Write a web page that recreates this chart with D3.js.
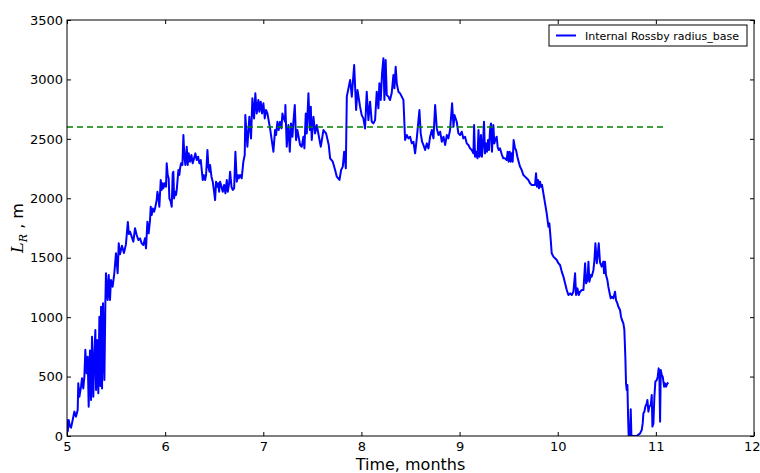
<!DOCTYPE html>
<html>
<head>
<meta charset="utf-8">
<script src="https://cdn.jsdelivr.net/npm/d3@7"></script>
<style>
    body { margin: 0; background: #fff; }
    svg { display: block; }
    text { font-family: "DejaVu Sans", sans-serif; }
</style>
</head>
<body>
<script>
// Internal Rossby radius over time
var months = [
    5.000, 5.008, 5.017, 5.030, 5.041, 5.058, 5.075, 5.092, 5.109, 5.115,
    5.126, 5.143, 5.153, 5.166, 5.177, 5.187, 5.200, 5.211, 5.221, 5.234,
    5.245, 5.255, 5.268, 5.279, 5.289, 5.296, 5.306, 5.319, 5.330, 5.340,
    5.347, 5.357, 5.367, 5.381, 5.391, 5.397, 5.414, 5.425, 5.438, 5.448,
    5.465, 5.482, 5.499, 5.516, 5.527, 5.540, 5.560, 5.580, 5.600, 5.620,
    5.630,
    5.642, 5.659, 5.676, 5.693, 5.710, 5.727, 5.744, 5.761, 5.778, 5.795,
    5.805, 5.819, 5.832, 5.846, 5.853, 5.863, 5.873, 5.887, 5.897, 5.914,
    5.921, 5.931, 5.941, 5.955, 5.965, 5.975, 5.982, 5.996, 6.009, 6.016,
    6.026, 6.036, 6.043, 6.057, 6.067, 6.077, 6.084, 6.091, 6.101, 6.111,
    6.118, 6.135, 6.145, 6.152, 6.162, 6.176, 6.186, 6.196, 6.206, 6.220,
    6.230, 6.240, 6.254, 6.268, 6.281, 6.295, 6.308, 6.322, 6.336, 6.349,
    6.363, 6.373, 6.383, 6.393, 6.407, 6.417, 6.431, 6.441, 6.451, 6.458,
    6.472, 6.485, 6.499, 6.509, 6.519, 6.529, 6.540, 6.550, 6.560, 6.574,
    6.587, 6.601, 6.614, 6.628, 6.638, 6.652, 6.662, 6.676, 6.689, 6.703,
    6.716, 6.730, 6.740, 6.750,
    6.763, 6.780, 6.797, 6.811, 6.817, 6.838, 6.858, 6.875, 6.889, 6.906,
    6.919, 6.933, 6.950, 6.960, 6.974, 6.987, 7.001, 7.015, 7.028, 7.042,
    7.069, 7.103, 7.120, 7.130, 7.144, 7.157, 7.171, 7.185, 7.195, 7.208,
    7.222, 7.225, 7.239, 7.256, 7.270, 7.283, 7.297, 7.307, 7.321, 7.334,
    7.348, 7.375, 7.392, 7.409, 7.419, 7.433, 7.443, 7.460, 7.474, 7.484,
    7.494, 7.511, 7.528, 7.545, 7.586, 7.613, 7.640, 7.667, 7.681, 7.708,
    7.732, 7.749, 7.776, 7.793, 7.810, 7.824, 7.841,
    7.851, 7.885, 7.902, 7.926, 7.946, 7.960,
    7.986, 8.003, 8.020, 8.037, 8.054, 8.071, 8.088, 8.105, 8.122, 8.139,
    8.156, 8.173, 8.183, 8.197, 8.210, 8.224, 8.234, 8.247, 8.258, 8.275,
    8.291, 8.308, 8.326, 8.336, 8.349, 8.360, 8.377, 8.394, 8.411, 8.428,
    8.445, 8.462, 8.479, 8.496, 8.513, 8.530, 8.547, 8.564, 8.581, 8.591,
    8.604, 8.618, 8.632, 8.649, 8.666, 8.683, 8.700, 8.717, 8.734, 8.751,
    8.768, 8.785, 8.802, 8.819, 8.836, 8.853, 8.870, 8.886, 8.903, 8.924,
    8.938, 8.948, 8.971, 8.988, 9.005, 9.022, 9.039, 9.056, 9.073, 9.090,
    9.107, 9.124, 9.141, 9.148, 9.158, 9.169, 9.182, 9.193, 9.203,
    9.208, 9.218, 9.228, 9.239, 9.249, 9.259, 9.269, 9.279, 9.290, 9.300,
    9.310, 9.320, 9.330, 9.344, 9.354, 9.364, 9.378, 9.388, 9.398, 9.412,
    9.422, 9.432, 9.446, 9.463, 9.480, 9.490, 9.500, 9.511, 9.521, 9.531,
    9.541, 9.551, 9.565, 9.575, 9.589, 9.602, 9.616, 9.633, 9.650, 9.667,
    9.684, 9.701, 9.718, 9.735, 9.752, 9.769, 9.779, 9.789, 9.800, 9.810,
    9.820, 9.830, 9.840, 9.854, 9.871, 9.888, 9.905, 9.915, 9.929, 9.939,
    9.956, 9.973, 9.990, 10.007, 10.024, 10.041, 10.058, 10.075, 10.092, 10.109,
    10.126, 10.143, 10.160, 10.177, 10.187, 10.201, 10.214, 10.228, 10.245, 10.262,
    10.279, 10.289, 10.303, 10.313, 10.323, 10.337, 10.347, 10.364, 10.374, 10.384,
    10.398, 10.408, 10.418,
    10.431, 10.448, 10.465, 10.472, 10.482, 10.492, 10.506, 10.516, 10.526, 10.540,
    10.550, 10.567, 10.584, 10.594, 10.608, 10.618, 10.635, 10.645, 10.655, 10.669,
    10.679, 10.689, 10.696, 10.703, 10.710, 10.717, 10.723, 10.737, 10.744, 10.751,
    10.771, 10.805, 10.839, 10.856, 10.866, 10.873, 10.883, 10.893, 10.907, 10.914,
    10.924, 10.934, 10.948, 10.958, 10.965, 10.975, 10.985, 10.995, 11.009, 11.019,
    11.029, 11.036, 11.043, 11.050, 11.060, 11.070, 11.084, 11.094, 11.104, 11.118,
    11.128
];

var radius = [
    140, 40, 135, 80, 70, 135, 205, 163, 220, 443,
    330, 415, 485, 400, 500, 725, 527, 667, 247, 720,
    303, 835, 330, 700, 892, 387, 808, 359, 1004, 420,
    1088, 400, 1116, 471, 1130, 1369, 1144, 1354, 1144, 1312,
    1256, 1369, 1537, 1369, 1621, 1530, 1600, 1540, 1610, 1800,
    1700,
    1719, 1677, 1635, 1747, 1691, 1649, 1663, 1621, 1607, 1663,
    1579, 1803, 1705, 1817, 1929, 1859, 1915, 1887, 1915, 1985,
    2055, 2013, 1929, 2154, 2070, 2126, 2084, 2126, 2097, 2294,
    2196, 2168, 1999, 1971, 1929, 2210, 2224, 1999, 2055, 2028,
    2070, 2238, 2196, 2252, 2294, 2280, 2532, 2350, 2280, 2434,
    2280, 2378, 2308, 2364, 2294, 2336, 2378, 2322, 2350, 2294,
    2322, 2238, 2154, 2196, 2154, 2196, 2406, 2266, 2224, 2280,
    2182, 2140, 2055, 1985, 2140, 2097, 2126, 2055, 2140, 2097,
    2055, 2112, 2042, 2154, 2055, 2126, 2224, 2097, 2070, 2084,
    2392, 2140, 2196, 2168,
    2196, 2168, 2308, 2364, 2701, 2434, 2686, 2504, 2841, 2672,
    2883, 2714, 2827, 2729, 2813, 2714, 2799, 2672, 2743, 2714,
    2588, 2392, 2574, 2532, 2644, 2574, 2644, 2588, 2714, 2672,
    2644, 2785, 2434, 2616, 2392, 2630, 2518, 2644, 2785, 2490,
    2574, 2448, 2434, 2518, 2420, 2714, 2546, 2883, 2574, 2771,
    2490, 2686, 2546, 2616, 2434, 2574, 2546, 2448, 2336, 2308,
    2238, 2182, 2154, 2238, 2266, 2392, 2252,
    2855, 2995, 2855, 3121, 2743, 2911,
    2771, 2700, 2672, 2588, 2897, 2658, 2813, 2644, 2630, 2658,
    2897, 2757, 2967, 2827, 3051, 3178, 2827, 3164, 2869, 2855,
    2827, 2883, 3037, 2925, 3107, 2967, 2897, 2883, 2855, 2827,
    2490, 2532, 2504, 2518, 2462, 2476, 2378, 2504, 2658, 2743,
    2546, 2476, 2448, 2406, 2462, 2420, 2518, 2574, 2504, 2785,
    2588, 2532, 2560, 2476, 2518, 2448, 2532, 2504, 2574, 2799,
    2602, 2700, 2644, 2546, 2532, 2560, 2504, 2518, 2462, 2448,
    2420, 2406, 2378, 2616, 2350, 2392, 2336, 2574, 2350,
    2364, 2532, 2350, 2462, 2644, 2378, 2462, 2392, 2490, 2406,
    2574, 2630, 2392, 2616, 2462, 2490, 2518, 2434, 2406, 2420,
    2392, 2364, 2336, 2336, 2322, 2392, 2308, 2392, 2308, 2378,
    2308, 2490, 2420, 2406, 2350, 2308, 2266, 2238, 2196, 2182,
    2168, 2154, 2126, 2112, 2112, 2112, 2210, 2097, 2154, 2084,
    2140, 2097, 2112, 2042, 1957, 1873, 1761, 1789, 1649, 1537,
    1509, 1495, 1481, 1453, 1439, 1383, 1341, 1285, 1228, 1186,
    1200, 1186, 1214, 1369, 1186, 1242, 1186, 1214, 1228, 1228,
    1453, 1285, 1312, 1467, 1298, 1355, 1341, 1397, 1481, 1621,
    1453, 1523, 1621,
    1460, 1425, 1467, 1369, 1467, 1355, 1312, 1256, 1214, 1158,
    1172, 1158, 1214, 1144, 1116, 1088, 1060, 1004, 976, 948,
    892, 667, 443, 387, 429, 163, 0, 10, 225, 0,
    0, 0, 22, 50, 106, 191, 205, 247, 275, 303,
    205, 247, 261, 345, 79, 106, 331, 457, 471, 499,
    569, 499, 121, 555, 513, 499, 415, 443, 415, 443,
    449
];

var seriesName = "Internal Rossby radius_base";

// reference level (green dashed line) and where it runs
var baseRadius = 2600;
var baseMonths = [5, 11.1];

var xTicks = [5, 6, 7, 8, 9, 10, 11, 12];
var yTicks = [0, 500, 1000, 1500, 2000, 2500, 3000, 3500];

var margin = {top: 20, right: 6, bottom: 37, left: 67},
    width = 760 - margin.left - margin.right,
    height = 473 - margin.top - margin.bottom;

var svg = d3.select("body").append("svg")
    .attr("width", width + margin.left + margin.right)
    .attr("height", height + margin.top + margin.bottom)
    .append("g")
    .attr("transform", "translate(" + margin.left + "," + margin.top + ")");

var xScale = d3.scaleLinear().domain([5, 12]).range([0, width]);
var yScale = d3.scaleLinear().domain([0, 3500]).range([height, 0]);

// clip like matplotlib does to the axes box
svg.append("clipPath")
    .attr("id", "plotClip")
    .append("rect")
    .attr("width", width)
    .attr("height", height);

var data = months.map(function(m, i) { return {t: m, v: radius[i]}; });

var line = d3.line()
    .x(function(d) { return xScale(d.t); })
    .y(function(d) { return yScale(d.v); });

svg.append("path")
    .datum(data)
    .attr("clip-path", "url(#plotClip)")
    .attr("fill", "none")
    .attr("stroke", "#0000ff")
    .attr("stroke-width", 2)
    .attr("stroke-linejoin", "round")
    .attr("d", line);

svg.append("line")
    .attr("x1", xScale(baseMonths[0]))
    .attr("x2", xScale(baseMonths[1]))
    .attr("y1", yScale(baseRadius))
    .attr("y2", yScale(baseRadius))
    .attr("stroke", "#008000")
    .attr("stroke-width", 1.6)
    .attr("stroke-dasharray", "6,4");

// inward ticks on all four sides, labels only bottom and left
function styleAxis(g) {
    g.select(".domain").remove();
    g.selectAll(".tick line").attr("stroke", "#000");
    g.selectAll(".tick text")
        .attr("fill", "#000")
        .style("font-family", "'DejaVu Sans', sans-serif")
        .style("font-size", "13px");
}

var xAxisG = svg.append("g")
    .attr("transform", "translate(0," + height + ")")
    .call(d3.axisBottom(xScale).tickValues(xTicks).tickFormat(d3.format("d"))
        .tickSizeInner(-4).tickSizeOuter(0).tickPadding(6))
    .call(styleAxis);

// last label sits on the window edge, pull it in so it stays whole
xAxisG.selectAll(".tick text")
    .filter(function(d) { return d === xTicks[xTicks.length - 1]; })
    .attr("text-anchor", "end")
    .attr("x", 6);

svg.append("g")
    .call(d3.axisTop(xScale).tickValues(xTicks).tickFormat("")
        .tickSizeInner(-4).tickSizeOuter(0))
    .call(styleAxis);

svg.append("g")
    .call(d3.axisLeft(yScale).tickValues(yTicks).tickFormat(d3.format("d"))
        .tickSizeInner(-4).tickSizeOuter(0).tickPadding(4))
    .call(styleAxis);

svg.append("g")
    .attr("transform", "translate(" + width + ",0)")
    .call(d3.axisRight(yScale).tickValues(yTicks).tickFormat("")
        .tickSizeInner(-4).tickSizeOuter(0))
    .call(styleAxis);

// axes frame
svg.append("rect")
    .attr("width", width)
    .attr("height", height)
    .attr("fill", "none")
    .attr("stroke", "#000")
    .attr("stroke-width", 1);

// axis labels
svg.append("text")
    .attr("x", width / 2)
    .attr("y", height + 34)
    .attr("text-anchor", "middle")
    .style("font-size", "16px")
    .text("Time, months");

var yLabel = svg.append("text")
    .attr("transform", "translate(" + (23 - margin.left) + "," + (height / 2) + ") rotate(-90)")
    .attr("text-anchor", "middle")
    .style("font-size", "16px");
yLabel.append("tspan")
    .style("font-family", "'DejaVu Serif', serif")
    .style("font-style", "italic")
    .text("L");
yLabel.append("tspan")
    .attr("dy", 4)
    .style("font-family", "'DejaVu Serif', serif")
    .style("font-style", "italic")
    .style("font-size", "11px")
    .text("R");
yLabel.append("tspan")
    .attr("dy", -4)
    .text(" , m");

// legend
var legend = svg.append("g")
    .attr("transform", "translate(" + (549 - margin.left) + "," + (25 - margin.top) + ")");
legend.append("rect")
    .attr("width", 198)
    .attr("height", 21)
    .attr("fill", "#fff")
    .attr("stroke", "#000")
    .attr("stroke-width", 1);
legend.append("line")
    .attr("x1", 7).attr("x2", 27)
    .attr("y1", 10.5).attr("y2", 10.5)
    .attr("stroke", "#0000ff")
    .attr("stroke-width", 2);
legend.append("text")
    .attr("x", 36)
    .attr("y", 14.5)
    .style("font-size", "11px")
    .text(seriesName);
</script>
</body>
</html>
